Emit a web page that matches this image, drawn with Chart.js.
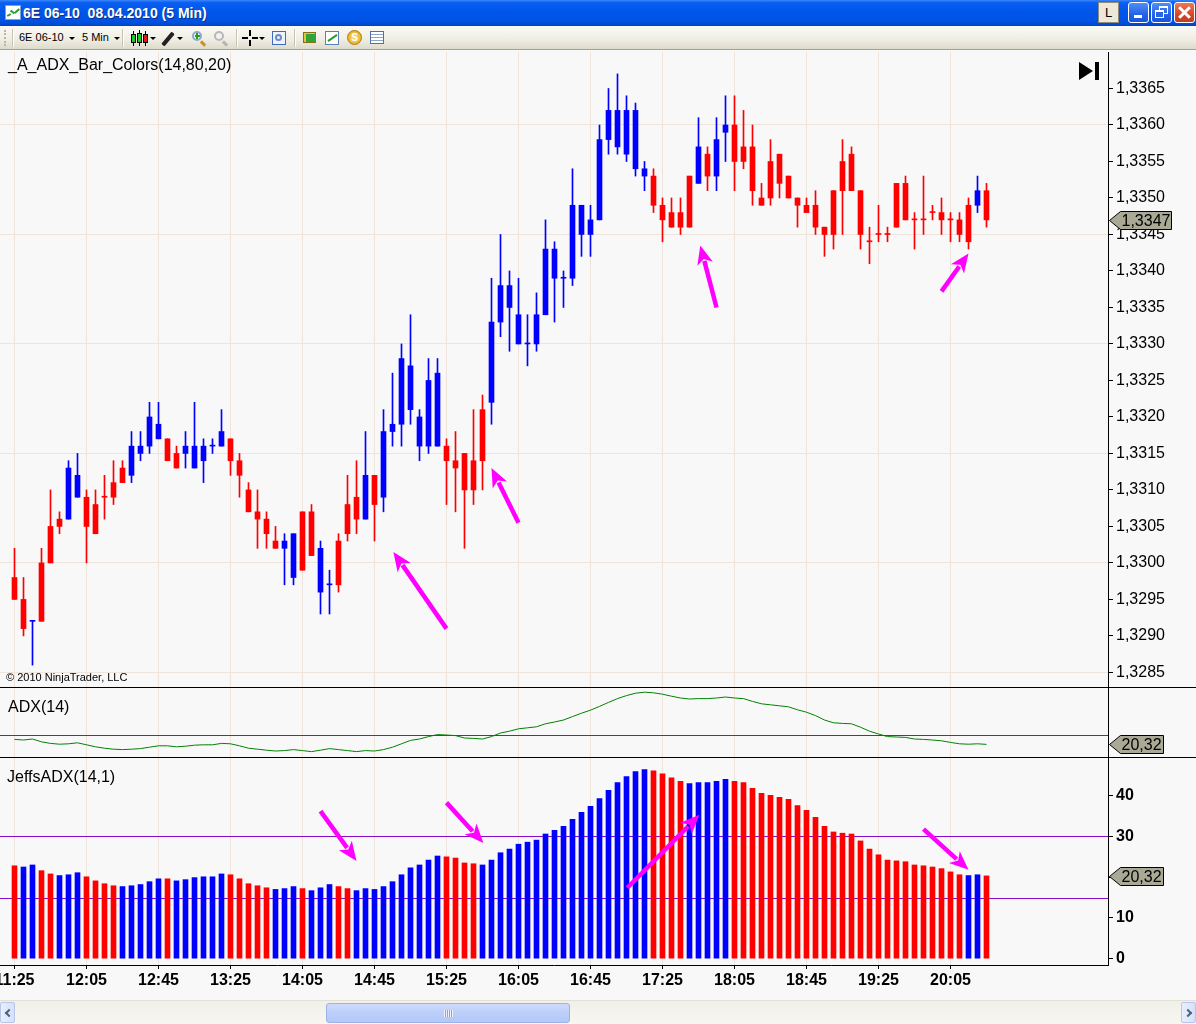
<!DOCTYPE html>
<html>
<head>
<meta charset="utf-8">
<script src="https://cdn.jsdelivr.net/npm/chart.js@4.4.1/dist/chart.umd.min.js"></script>
<style>
*{box-sizing:border-box}
html,body{margin:0;padding:0}
body{width:1196px;height:1024px;overflow:hidden;position:relative;background:#f8f8f8;font-family:"Liberation Sans",Arial,sans-serif}
.abs{position:absolute}
#title{left:0;top:0;width:1196px;height:26px;background:linear-gradient(#3b86fa 0%,#0a5ff2 10%,#0056ea 45%,#0052e2 85%,#0042c2 100%)}
#ticon{left:5px;top:5px;width:16px;height:15px;background:#fff;border:1px solid #7aa0e0}
#ttext{left:23px;top:5px;color:#fff;font-weight:bold;font-size:14px;white-space:pre;text-shadow:1px 1px 0 #0b2f8a}
.wbtn{top:2px;width:21px;height:21px;border-radius:3px;border:1px solid #fff}
.lbtn{left:1098px;background:#ece9d8;border:1px solid #8d8b7e;border-radius:0;font-size:13px;text-align:center;line-height:19px;color:#000}
.blue{background:linear-gradient(#4f8ff7,#2663e6 60%,#1b55d6)}
.red{background:linear-gradient(#ec7a57,#d9462a 60%,#c43a1e)}
#tb{left:0;top:26px;width:1196px;height:24px;background:linear-gradient(#fbfaf6,#efede3 60%,#dedbcb);border-bottom:1px solid #a5a28c}
.vsep{top:3px;width:2px;height:18px;border-left:1px solid #c5c2b2;border-right:1px solid #fff}
.tbt{top:5px;font-size:11px;color:#000;white-space:pre}
.caret{top:11px;width:0;height:0;border-left:3px solid transparent;border-right:3px solid transparent;border-top:3px solid #000}
.ovl{position:absolute;pointer-events:none;z-index:5}
.ptitle{font-size:16px;color:#000;white-space:pre}
.hsep{left:0;width:1196px;height:1px;background:#000}
#sb{left:0;top:1000px;width:1196px;height:24px;background:linear-gradient(#f0efe8,#f7f6f1);border-top:1px solid #e3e1d6}
.sbbtn{top:1px;width:15px;height:21px;background:linear-gradient(90deg,#e9eefb,#d6e0f8);border:1px solid #b7c6ec;border-radius:2px}
.chev{position:absolute;top:7px;width:6px;height:6px;border-left:2px solid #4d6185;border-bottom:2px solid #4d6185}
#thumb{left:326px;top:2px;width:244px;height:20px;background:linear-gradient(#cddafb,#bccef9 50%,#b4c8f7);border:1px solid #9cb3ea;border-radius:3px}
</style>
</head>
<body>
<!-- window title bar -->
<div id="title" class="abs">
  <div id="ticon" class="abs">
    <div class="abs" style="left:1px;top:8px;width:4px;height:2px;background:#2a9a2a;transform:rotate(-30deg)"></div>
    <div class="abs" style="left:4px;top:5px;width:5px;height:2px;background:#2a9a2a;transform:rotate(40deg)"></div>
    <div class="abs" style="left:8px;top:4px;width:6px;height:2px;background:#2a9a2a;transform:rotate(-40deg)"></div>
  </div>
  <div id="ttext" class="abs">6E 06-10  08.04.2010 (5 Min)</div>
  <div class="abs wbtn lbtn">L</div>
  <div class="abs wbtn blue" style="left:1128px"><div class="abs" style="left:5px;top:12px;width:8px;height:3px;background:#fff"></div></div>
  <div class="abs wbtn blue" style="left:1151px">
    <div class="abs" style="left:7px;top:3px;width:9px;height:8px;border:1px solid #fff;border-top-width:2px"></div>
    <div class="abs" style="left:3px;top:7px;width:9px;height:8px;border:1px solid #fff;border-top-width:2px;background:#2a66e4"></div>
  </div>
  <div class="abs wbtn red" style="left:1174px">
    <div class="abs" style="left:2px;top:8px;width:15px;height:3px;background:#fff;transform:rotate(45deg)"></div>
    <div class="abs" style="left:2px;top:8px;width:15px;height:3px;background:#fff;transform:rotate(-45deg)"></div>
  </div>
</div>
<!-- toolbar -->
<div id="tb" class="abs">
  <div class="abs" style="left:4px;top:4px;width:2px;height:16px;border-left:2px dotted #b8b5a4"></div>
  <div class="abs vsep" style="left:12px"></div>
  <div class="abs tbt" style="left:19px">6E 06-10</div><div class="abs caret" style="left:69px"></div>
  <div class="abs tbt" style="left:82px">5 Min</div><div class="abs caret" style="left:114px"></div>
  <div class="abs vsep" style="left:122px"></div>
  <div class="abs" style="left:133px;top:5px;width:1px;height:15px;background:#000"></div>
  <div class="abs" style="left:131px;top:8px;width:5px;height:9px;background:#1ec81e;border:1px solid #000"></div>
  <div class="abs" style="left:139px;top:4px;width:1px;height:16px;background:#000"></div>
  <div class="abs" style="left:137px;top:7px;width:5px;height:10px;background:#1ec81e;border:1px solid #000"></div>
  <div class="abs" style="left:145px;top:5px;width:1px;height:15px;background:#000"></div>
  <div class="abs" style="left:143px;top:8px;width:5px;height:9px;background:#e01818;border:1px solid #000"></div>
  <div class="abs caret" style="left:150px"></div>
  <div class="abs" style="left:160px;top:11px;width:16px;height:4px;background:#222;transform:rotate(-50deg);border-radius:1px"></div>
  <div class="abs caret" style="left:177px"></div>
  <div class="abs" style="left:192px;top:5px;width:10px;height:10px;border:2px solid #8ea9c8;border-radius:50%;background:#e9f3ff"></div>
  <div class="abs" style="left:195px;top:9px;width:5px;height:2px;background:#20a020"></div>
  <div class="abs" style="left:196px;top:7px;width:2px;height:6px;background:#20a020"></div>
  <div class="abs" style="left:200px;top:16px;width:6px;height:3px;background:#c9922a;transform:rotate(45deg)"></div>
  <div class="abs" style="left:214px;top:5px;width:10px;height:10px;border:2px solid #b8b8b8;border-radius:50%;background:#f2f2f2"></div>
  <div class="abs" style="left:222px;top:16px;width:6px;height:3px;background:#b5b5b5;transform:rotate(45deg)"></div>
  <div class="abs vsep" style="left:236px"></div>
  <div class="abs" style="left:249px;top:4px;width:2px;height:6px;background:#000"></div>
  <div class="abs" style="left:249px;top:14px;width:2px;height:6px;background:#000"></div>
  <div class="abs" style="left:242px;top:11px;width:6px;height:2px;background:#000"></div>
  <div class="abs" style="left:252px;top:11px;width:6px;height:2px;background:#000"></div>
  <div class="abs caret" style="left:259px"></div>
  <div class="abs" style="left:272px;top:5px;width:14px;height:14px;border:1px solid #3d6cc0;background:#eef3fb"></div>
  <div class="abs" style="left:275px;top:8px;width:7px;height:7px;border:2px solid #6a8cc8;border-radius:50%"></div>
  <div class="abs vsep" style="left:294px"></div>
  <div class="abs" style="left:303px;top:6px;width:13px;height:11px;background:#e8c33a;border:1px solid #8a6d12"></div>
  <div class="abs" style="left:306px;top:8px;width:10px;height:8px;background:#2ea43a"></div>
  <div class="abs" style="left:325px;top:5px;width:14px;height:14px;background:#fff;border:1px solid #5a7fb8"></div>
  <div class="abs" style="left:327px;top:11px;width:11px;height:2px;background:#2a9a2a;transform:rotate(-35deg)"></div>
  <div class="abs" style="left:347px;top:4px;width:15px;height:15px;border-radius:50%;background:radial-gradient(#ffe27a,#e0a010);border:1px solid #b07a00;font-size:10px;font-weight:bold;color:#fff;text-align:center;line-height:13px">S</div>
  <div class="abs" style="left:370px;top:5px;width:14px;height:13px;background:repeating-linear-gradient(#fff 0 2px,#8da4cc 2px 3px);border:1px solid #4e6fa8"></div>
</div>

<canvas id="cp" class="abs" width="1196" height="635" style="left:0;top:52px;width:1196px;height:635px"></canvas>
<canvas id="ca" class="abs" width="1196" height="70" style="left:0;top:687px;width:1196px;height:70px"></canvas>
<canvas id="cj" class="abs" width="1196" height="243" style="left:0;top:757px;width:1196px;height:243px"></canvas>

<div class="ovl ptitle" style="left:8px;top:56px">_A_ADX_Bar_Colors(14,80,20)</div>
<div class="ovl" style="left:6px;top:671px;font-size:11px;color:#000;white-space:pre">© 2010 NinjaTrader, LLC</div>
<div class="ovl" style="left:1079px;top:62px;width:0;height:0;border-top:9px solid transparent;border-bottom:9px solid transparent;border-left:14px solid #000"></div>
<div class="ovl" style="left:1095px;top:62px;width:4px;height:18px;background:#000"></div>
<div class="ovl hsep" style="top:687px"></div>
<div class="ovl ptitle" style="left:8px;top:698px">ADX(14)</div>
<div class="ovl hsep" style="top:757px"></div>
<div class="ovl ptitle" style="left:7px;top:768px">JeffsADX(14,1)</div>

<div id="sb" class="abs">
  <div class="abs sbbtn" style="left:0"><div class="chev" style="left:5px;transform:rotate(45deg)"></div></div>
  <div id="thumb" class="abs">
    <div class="abs" style="left:117px;top:6px;width:9px;height:7px;background:repeating-linear-gradient(90deg,#eef3ff 0 1px,#8aa3dc 1px 2px)"></div>
  </div>
  <div class="abs sbbtn" style="left:1181px"><div class="chev" style="left:3px;transform:rotate(-135deg)"></div></div>
</div>

<script>
// ---------- data ----------
const timeLabels = ['11:25','12:05','12:45','13:25','14:05','14:45','15:25','16:05','16:45','17:25','18:05','18:45','19:25','20:05'];
const timeTickBars = [0,8,16,24,32,40,48,56,64,72,80,88,96,104];

const open = [1.3298,1.3295,1.3292,1.3292,1.3300,1.3305,1.3306,1.3312,1.3309,1.3304,
1.3309,1.3309,1.3311,1.3312,1.3315,1.3316,1.3319,1.3317,1.3313,1.3315,
1.3316,1.3314,1.3316,1.3316,1.3317,1.3314,1.3310,1.3307,1.3306,1.3303,
1.3302,1.3304,1.3299,1.3307,1.3302,1.3297,1.3297,1.3304,1.3309,1.3306,
1.3312,1.3309,1.3318,1.3319,1.3327,1.3320,1.3316,1.3326,1.3316,1.3314,
1.3315,1.3310,1.3314,1.3322,1.3333,1.3338,1.3334,1.3330,1.3330,1.3334,
1.3343,1.3339,1.3339,1.3349,1.3345,1.3347,1.3358,1.3362,1.3356,1.3362,
1.3354,1.3353,1.3349,1.3348,1.3346,1.3346,1.3352,1.3356,1.3353,1.3359,
1.3360,1.3355,1.3357,1.3349,1.3350,1.3356,1.3353,1.3350,1.3349,1.3349,
1.3346,1.3345,1.3351,1.3356,1.3351,1.3344,1.3345,1.3345,1.3346,1.3352,
1.3347,1.3347,1.3348,1.3348,1.3347,1.3347,1.3344,1.3349,1.3351];
const high = [1.3302,1.3298,1.3292,1.3302,1.3310,1.3307,1.3314,1.3315,1.3310,1.3310,
1.3312,1.3314,1.3314,1.3318,1.3318,1.3322,1.3322,1.3317,1.3316,1.3318,
1.3322,1.3317,1.3317,1.3321,1.3317,1.3315,1.3311,1.3310,1.3307,1.3305,
1.3304,1.3304,1.3307,1.3308,1.3303,1.3299,1.3304,1.3312,1.3314,1.3318,
1.3312,1.3321,1.3326,1.3330,1.3334,1.3321,1.3328,1.3328,1.3317,1.3318,
1.3315,1.3321,1.3323,1.3339,1.3345,1.3340,1.3339,1.3334,1.3337,1.3347,
1.3344,1.3340,1.3354,1.3349,1.3349,1.3360,1.3365,1.3367,1.3364,1.3363,
1.3355,1.3354,1.3350,1.3350,1.3350,1.3353,1.3361,1.3357,1.3361,1.3364,
1.3364,1.3362,1.3360,1.3352,1.3358,1.3356,1.3353,1.3350,1.3350,1.3351,
1.3346,1.3351,1.3358,1.3357,1.3351,1.3346,1.3349,1.3346,1.3352,1.3353,
1.3348,1.3353,1.3349,1.3350,1.3348,1.3348,1.3350,1.3353,1.3352];
const low = [1.3295,1.3290,1.3286,1.3292,1.3300,1.3304,1.3306,1.3309,1.3300,1.3304,
1.3306,1.3308,1.3311,1.3311,1.3314,1.3315,1.3317,1.3314,1.3313,1.3313,
1.3313,1.3311,1.3315,1.3316,1.3312,1.3309,1.3307,1.3302,1.3302,1.3302,
1.3297,1.3297,1.3299,1.3301,1.3293,1.3293,1.3296,1.3303,1.3304,1.3306,
1.3303,1.3307,1.3316,1.3316,1.3319,1.3314,1.3315,1.3316,1.3308,1.3307,
1.3302,1.3308,1.3310,1.3319,1.3331,1.3329,1.3330,1.3327,1.3329,1.3334,
1.3333,1.3335,1.3338,1.3342,1.3342,1.3347,1.3356,1.3356,1.3355,1.3353,
1.3351,1.3348,1.3344,1.3346,1.3345,1.3346,1.3352,1.3351,1.3351,1.3355,
1.3351,1.3354,1.3349,1.3349,1.3349,1.3350,1.3350,1.3346,1.3348,1.3345,
1.3342,1.3343,1.3345,1.3351,1.3343,1.3341,1.3344,1.3344,1.3346,1.3347,
1.3343,1.3345,1.3347,1.3345,1.3344,1.3344,1.3343,1.3348,1.3346];
const close = [1.3295,1.3291,1.3292,1.3300,1.3305,1.3306,1.3313,1.3309,1.3305,1.3308,
1.3309,1.3311,1.3313,1.3316,1.3316,1.3320,1.3317,1.3314,1.3315,1.3316,
1.3313,1.3316,1.3316,1.3318,1.3314,1.3312,1.3307,1.3306,1.3304,1.3302,
1.3303,1.3298,1.3307,1.3301,1.3296,1.3297,1.3303,1.3308,1.3306,1.3312,
1.3308,1.3318,1.3319,1.3328,1.3321,1.3316,1.3325,1.3316,1.3314,1.3313,
1.3310,1.3314,1.3321,1.3333,1.3338,1.3335,1.3330,1.3330,1.3334,1.3343,
1.3339,1.3339,1.3349,1.3345,1.3347,1.3358,1.3362,1.3357,1.3362,1.3354,
1.3353,1.3349,1.3347,1.3346,1.3348,1.3353,1.3357,1.3353,1.3358,1.3360,
1.3355,1.3357,1.3351,1.3350,1.3355,1.3352,1.3350,1.3349,1.3348,1.3346,
1.3345,1.3351,1.3355,1.3351,1.3345,1.3344,1.3345,1.3345,1.3352,1.3347,
1.3347,1.3347,1.3348,1.3347,1.3347,1.3345,1.3349,1.3351,1.3347];
// bar colour from _A_ADX_Bar_Colors: r = red, b = blue
const candleColors = ('rrbrrrbbrr'+'rrrbbbbrrb'+'bbbbrrrrrr'+'bbrrbbrrrb'+'rbbbbbbbrr'+
  'rrrbbbbbbb'+'bbbbbbbbbb'+'brrrrrbrbb'+'rrrrrrrrrr'+'rrrrrrrrrr'+'rrrrrrrbr').split('');

const adx = [22.8,22.5,23.0,21.6,20.8,20.4,20.6,21.1,20.1,19.1,
18.4,17.9,17.7,17.9,18.2,18.9,19.6,19.6,19.1,19.4,
19.9,20.1,20.1,20.8,20.6,19.6,18.4,17.9,17.4,17.0,
17.2,17.7,17.2,16.7,17.4,18.2,17.7,17.2,16.7,17.2,
17.0,17.7,18.9,20.6,22.3,23.0,24.2,25.2,25.0,24.7,
23.5,23.3,23.0,24.2,26.0,26.9,28.1,28.6,29.1,30.6,
31.5,32.5,34.2,35.9,37.4,39.3,41.3,43.2,44.7,45.9,
46.4,46.1,45.4,44.4,43.5,43.0,43.2,43.2,43.5,44.0,
43.5,43.2,41.8,40.6,40.1,39.6,39.1,37.6,36.4,34.7,
32.5,31.1,30.8,30.6,28.9,26.9,25.5,24.2,24.0,23.8,
23.0,22.8,22.5,22.1,21.3,20.6,20.4,20.6,20.32];
const jeffColors = ('rbbrrbbbrr'+'rrbbbbbrbb'+'bbbbrrrrrb'+'bbrbbbrrbb'+'bbbbbbbbrr'+
  'rrbbbbbbbb'+'bbbbbbbbbb'+'brrrrbbbbb'+'rrrrrrrrrr'+'rrrrrrrrrr'+'rrrrrrbbr').split('');

const priceTicks = [1.3285,1.3290,1.3295,1.3300,1.3305,1.3310,1.3315,1.3320,1.3325,1.3330,
  1.3335,1.3340,1.3345,1.3350,1.3355,1.3360,1.3365];
const jeffTicks = [0,10,20,30,40];
const adxLines = [25];
const jeffLines = [30,15];

// hand-drawn magenta arrows: [fromBar, fromValue, toBar, toValue]
const priceArrows = [[48.0,1.3291,42.1,1.33015],[56.0,1.33055,53.0,1.3313],[78.0,1.3335,76.2,1.33435],[103.0,1.33372,106.0,1.33424]];
const jeffArrows = [[34.0,36.2,38.0,24.0],[48.0,38.3,52.1,28.4],[68.1,17.4,76.1,35.3],[101.0,31.8,106.0,21.8]];

// ---------- style ----------
const FONT = '"Liberation Sans", Arial, sans-serif';
const GRID = '#eee4db';
const RED = '#ff0000', BLUE = '#0000ff', PURPLE = '#8a0ccb', ADXGREEN = '#008000', MAGENTA = '#ff00ff';
const col = c => c === 'b' ? BLUE : RED;
const fmt = (v, d) => v.toFixed(d).replace('.', ',');
const X_MIN = -1.6111, X_MAX = 121.5;
Chart.defaults.font.family = FONT;

function noPad(s) { s.paddingTop = 0; s.paddingBottom = 0; s.paddingLeft = 0; s.paddingRight = 0; }

function xAxis(withLabels) {
  return {
    type: 'linear', min: X_MIN, max: X_MAX, bounds: 'data', offset: false,
    afterBuildTicks: s => { s.ticks = timeTickBars.map(v => ({ value: v })); },
    afterFit: s => { noPad(s); s.height = withLabels ? 35 : 0; },
    grid: { offset: false, color: GRID, lineWidth: 1, drawTicks: withLabels, tickLength: 4, tickColor: '#000' },
    border: { display: withLabels, color: '#000', width: 1 },
    ticks: { display: withLabels, autoSkip: false, maxRotation: 0, minRotation: 0, padding: 2, color: '#000',
      font: { family: FONT, size: 16, weight: 'bold' }, callback: (v, i) => timeLabels[i] }
  };
}

const markerPlugin = {
  id: 'lastMarker',
  afterDraw(chart, args, o) {
    if (!o || o.text == null) return;
    const ctx = chart.ctx;
    const y = Math.round(chart.scales.y.getPixelForValue(o.value)) + 0.5;
    const x0 = chart.chartArea.right + 1.5, w = o.width, h = 18;
    ctx.save();
    ctx.beginPath();
    ctx.moveTo(x0, y);
    ctx.lineTo(x0 + 11, y - h / 2);
    ctx.lineTo(x0 + w, y - h / 2);
    ctx.lineTo(x0 + w, y + h / 2);
    ctx.lineTo(x0 + 11, y + h / 2);
    ctx.closePath();
    ctx.fillStyle = '#aaa996';
    ctx.fill();
    ctx.strokeStyle = '#000';
    ctx.lineWidth = 1;
    ctx.stroke();
    ctx.fillStyle = '#000';
    ctx.font = '16px ' + FONT;
    ctx.textBaseline = 'middle';
    ctx.textAlign = 'left';
    ctx.fillText(o.text, x0 + 12, y + 1);
    ctx.restore();
  }
};
const refLinePlugin = {
  id: 'refLines',
  beforeDatasetsDraw(chart, args, o) {
    const vals = (o && o.values) || [];
    const ctx = chart.ctx, a = chart.chartArea;
    ctx.save();
    ctx.strokeStyle = PURPLE;
    ctx.lineWidth = 1;
    for (const v of vals) {
      const y = Math.round(chart.scales.y.getPixelForValue(v)) + 0.5;
      ctx.beginPath();
      ctx.moveTo(a.left, y);
      ctx.lineTo(a.right, y);
      ctx.stroke();
    }
    ctx.restore();
  }
};
const arrowPlugin = {
  id: 'arrows',
  afterDatasetsDraw(chart, args, o) {
    const list = (o && o.list) || [];
    if (!list.length) return;
    const ctx = chart.ctx, xs = chart.scales.x, ys = chart.scales.y;
    ctx.save();
    ctx.strokeStyle = MAGENTA;
    ctx.fillStyle = MAGENTA;
    ctx.lineWidth = 4.5;
    for (const a of list) {
      const x1 = xs.getPixelForValue(a[0]), y1 = ys.getPixelForValue(a[1]);
      const x2 = xs.getPixelForValue(a[2]), y2 = ys.getPixelForValue(a[3]);
      const ang = Math.atan2(y2 - y1, x2 - x1), L = 19, W = 8;
      const c = Math.cos(ang), s = Math.sin(ang);
      const bx = x2 - L * c, by = y2 - L * s;
      ctx.beginPath();
      ctx.moveTo(x1, y1);
      ctx.lineTo(bx + 3 * c, by + 3 * s);
      ctx.stroke();
      ctx.beginPath();
      ctx.moveTo(x2, y2);
      ctx.lineTo(bx - W * s, by + W * c);
      ctx.lineTo(bx + 5 * c, by + 5 * s);
      ctx.lineTo(bx + W * s, by - W * c);
      ctx.closePath();
      ctx.fill();
    }
    ctx.restore();
  }
};
const plugins = [refLinePlugin, arrowPlugin, markerPlugin];
const common = {
  responsive: false, devicePixelRatio: 1, animation: false, events: [],
  layout: { padding: 0 }
};

// ---------- price panel ----------
const bodies = open.map((o, i) => ({ x: i, y: [o, close[i]] }));
const wicks = low.map((l, i) => ({ x: i, y: [l, high[i]] }));
const candleFill = candleColors.map(col);
new Chart(document.getElementById('cp'), {
  type: 'bar',
  data: { datasets: [
    { data: bodies, backgroundColor: candleFill, barThickness: 5, minBarLength: 1, grouped: false, borderWidth: 0 },
    { data: wicks, backgroundColor: candleFill, barThickness: 1, grouped: false, borderWidth: 0 }
  ] },
  options: Object.assign({}, common, {
    plugins: { legend: { display: false }, tooltip: { enabled: false },
      arrows: { list: priceArrows },
      lastMarker: { value: close[close.length - 1], text: fmt(close[close.length - 1], 4), width: 62 } },
    scales: {
      x: xAxis(false),
      y: { type: 'linear', position: 'right', min: 1.3283, max: 1.3370, bounds: 'data',
        afterBuildTicks: s => { s.ticks = priceTicks.map(v => ({ value: v })); },
        afterFit: s => { noPad(s); s.width = 88; },
        grid: { color: c => (c.index % 3 === 0 ? GRID : 'rgba(0,0,0,0)'), tickColor: '#000', tickLength: 5, lineWidth: 1 },
        border: { color: '#000' },
        ticks: { color: '#000', padding: 3, font: { family: FONT, size: 16 }, callback: (v, i) => fmt(priceTicks[i], 4) } }
    }
  }),
  plugins
});

// ---------- ADX panel ----------
new Chart(document.getElementById('ca'), {
  type: 'line',
  data: { datasets: [
    { data: adx.map((v, i) => ({ x: i, y: v })), borderColor: ADXGREEN, borderWidth: 1, pointRadius: 0, tension: 0, fill: false }
  ] },
  options: Object.assign({}, common, {
    plugins: { legend: { display: false }, tooltip: { enabled: false },
      refLines: { values: adxLines },
      lastMarker: { value: adx[adx.length - 1], text: fmt(adx[adx.length - 1], 2), width: 54 } },
    scales: {
      x: xAxis(false),
      y: { type: 'linear', position: 'right', min: 14, max: 49, bounds: 'data',
        afterFit: s => { noPad(s); s.width = 88; },
        grid: { color: 'rgba(0,0,0,0)', drawTicks: false },
        border: { color: '#000' },
        ticks: { display: false } }
    }
  }),
  plugins
});

// ---------- JeffsADX panel ----------
new Chart(document.getElementById('cj'), {
  type: 'bar',
  data: { datasets: [
    { data: adx.map((v, i) => ({ x: i, y: v })), backgroundColor: jeffColors.map(col), barThickness: 5, grouped: false, borderWidth: 0 }
  ] },
  options: Object.assign({}, common, {
    plugins: { legend: { display: false }, tooltip: { enabled: false },
      refLines: { values: jeffLines },
      arrows: { list: jeffArrows },
      lastMarker: { value: adx[adx.length - 1], text: fmt(adx[adx.length - 1], 2), width: 54 } },
    scales: {
      x: xAxis(true),
      y: { type: 'linear', position: 'right', min: -1.55, max: 49.5, bounds: 'data',
        afterBuildTicks: s => { s.ticks = jeffTicks.map(v => ({ value: v })); },
        afterFit: s => { noPad(s); s.width = 88; },
        grid: { color: 'rgba(0,0,0,0)', tickColor: '#000', tickLength: 5 },
        border: { color: '#000' },
        ticks: { color: '#000', padding: 3, font: { family: FONT, size: 16, weight: 'bold' }, callback: (v, i) => String(jeffTicks[i]) } }
    }
  }),
  plugins
});
</script>
</body>
</html>
